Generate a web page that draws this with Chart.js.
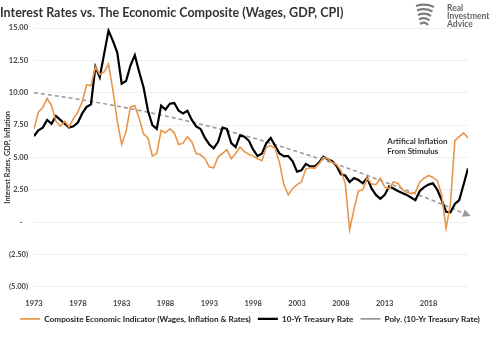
<!DOCTYPE html>
<html>
<head>
<meta charset="utf-8">
<script src="https://cdn.jsdelivr.net/npm/chart.js@4.4.1/dist/chart.umd.min.js"></script>
<style>
  html, body { margin: 0; padding: 0; background: #fff; }
</style>
</head>
<body>
<canvas id="myChart" width="500" height="347"></canvas>
<script>
// half-year steps, 1973 to mid 2022
var fechas = [];
for (var i = 0; i < 100; i++) fechas.push(1973 + i / 2);

var compuesto = [7.2, 8.5, 8.85, 9.55, 9.0, 7.8, 7.4, 7.8, 7.35, 8.0,
  8.5, 9.3, 10.6, 10.55, 12.0, 11.4, 11.6, 12.2, 10.2, 7.8,
  6.0, 7.0, 8.9, 9.0, 8.0, 6.8, 6.5, 5.1, 5.3, 7.1,
  6.9, 7.2, 6.9, 6.0, 6.1, 6.6, 6.2, 5.3, 5.2, 4.9,
  4.25, 4.2, 5.05, 5.3, 5.6, 4.9, 5.3, 5.8, 5.45, 5.25,
  5.1, 4.9, 4.75, 5.8, 5.9, 5.7, 4.6, 2.9, 2.1, 2.6,
  2.9, 3.1, 4.1, 4.2, 4.15, 4.5, 5.0, 4.9, 4.6, 4.45,
  4.0, 3.0, -0.6, 1.0, 2.4, 2.5, 3.4, 2.95, 2.9, 3.4,
  2.7, 2.6, 3.1, 3.0, 2.5, 2.3, 2.2, 2.3, 3.1, 3.4,
  3.6, 3.45, 3.2, 2.1, -0.5, 1.4, 6.3, 6.6, 6.9, 6.5];

var tasa10 = [6.64, 7.1, 7.3, 7.9, 7.6, 8.2, 7.9, 7.6, 7.3, 7.4,
  7.7, 8.4, 8.9, 9.1, 12.0, 11.2, 13.0, 14.8, 14.0, 13.1,
  10.7, 10.9, 12.1, 12.9, 11.6, 10.4, 8.6, 7.5, 7.2, 9.0,
  8.7, 9.15, 9.2, 8.6, 8.4, 8.6, 7.9, 7.4, 7.2, 6.5,
  6.0, 5.7, 6.2, 7.3, 7.2, 6.1, 5.8, 6.7, 6.6, 6.3,
  5.6, 5.1, 5.3, 6.1, 6.5, 5.9, 5.3, 5.1, 5.1, 4.7,
  3.9, 4.0, 4.5, 4.3, 4.3, 4.6, 5.05, 4.85, 4.7, 4.35,
  3.7, 3.6, 3.1, 3.4, 3.25, 3.0, 3.4, 2.6, 2.1, 1.8,
  2.1, 2.75, 2.6, 2.4, 2.25, 2.1, 1.9, 1.7, 2.4, 2.7,
  2.9, 3.0, 2.5, 1.7, 0.8, 0.75, 1.4, 1.7, 2.9, 4.15];

// polynomial trend
var fechasTendencia = [1973, 1978, 1983, 1988, 1993, 1998, 2003, 2008, 2013, 2018, 2022.5];
var tendencia = [10.0, 9.5, 8.9, 8.2, 7.4, 6.5, 5.45, 4.35, 3.1, 1.8, 0.55];

var etiquetasX = [1973, 1978, 1983, 1988, 1993, 1998, 2003, 2008, 2013, 2018];
var valoresY = [-5, -2.5, 0, 2.5, 5, 7.5, 10, 12.5, 15];
var etiquetasY = ['(5.00)', '(2.50)', '-   ', '2.50', '5.00', '7.50', '10.00', '12.50', '15.00'];

var nota = ['Artifical Inflation', 'From Stimulus'];
var notaPos = {x: 2013.3, y: 6.2};

function puntos(xs, ys){
    return xs.map(function(x, k){ return {x: x, y: ys[k]}; });
}

const ctx = document.getElementById('myChart');
const fuente = 'Lato, "Open Sans", sans-serif';

// arrow on the trend line, note and logo text
var extras = {
    id: 'extras',
    afterDatasetsDraw: function(chart){
        var c = chart.ctx;
        var meta = chart.getDatasetMeta(2).data;
        var p1 = meta[meta.length - 2], p2 = meta[meta.length - 1];
        var ang = Math.atan2(p2.y - p1.y, p2.x - p1.x);
        c.save();
        c.translate(p2.x, p2.y);
        c.rotate(ang);
        c.fillStyle = '#9a9a9a';
        c.beginPath();
        c.moveTo(3, 0);
        c.lineTo(-5, -4);
        c.lineTo(-5, 4);
        c.closePath();
        c.fill();
        c.restore();

        var xs = chart.scales.x, ys = chart.scales.y;
        c.save();
        c.fillStyle = '#333';
        c.font = 'bold 8px ' + fuente;
        c.textAlign = 'left';
        c.textBaseline = 'middle';
        var nx = xs.getPixelForValue(notaPos.x), ny = ys.getPixelForValue(notaPos.y);
        c.fillText(nota[0], nx, ny);
        c.fillText(nota[1], nx, ny + 10);
        c.restore();
    },
    afterDraw: function(chart){
        var c = chart.ctx;
        c.save();
        // eagle-ish mark
        c.strokeStyle = '#7d7d7d';
        c.lineWidth = 2.2;
        for (var k = 0; k < 5; k++){
            c.beginPath();
            c.moveTo(416 + k, 6 + k * 4.5);
            c.quadraticCurveTo(425, 3 + k * 4.5, 434 - k * 1.5, 7 + k * 4.5);
            c.stroke();
        }
        c.fillStyle = '#666';
        c.font = 'bold 8.5px ' + fuente;
        c.textBaseline = 'middle';
        c.fillText('Real', 447, 8);
        c.fillText('Investment', 447, 16);
        c.fillText('Advice', 447, 24);
        c.restore();
    }
};

var myChart = new Chart(ctx, {
    type: 'line',
    data: {
        datasets: [{
            label: 'Composite Economic Indicator (Wages, Inflation & Rates)',
            data: puntos(fechas, compuesto),
            borderColor: '#e8964a',
            backgroundColor: '#e8964a',
            borderWidth: 1.6,
            pointRadius: 0,
            tension: 0
        }, {
            label: '10-Yr Treasury Rate',
            data: puntos(fechas, tasa10),
            borderColor: '#000',
            backgroundColor: '#000',
            borderWidth: 2.2,
            pointRadius: 0,
            tension: 0
        }, {
            label: 'Poly. (10-Yr Treasury Rate)',
            data: puntos(fechasTendencia, tendencia),
            borderColor: '#9a9a9a',
            backgroundColor: '#9a9a9a',
            borderWidth: 1.6,
            borderDash: [4, 3],
            pointRadius: 0,
            cubicInterpolationMode: 'monotone'
        }]
    },
    options: {
        responsive: false,
        animation: false,
        layout: { padding: { left: 0, right: 0, top: 0, bottom: 14 } },
        plugins: {
            title: {
                display: true,
                text: 'Interest Rates vs. The Economic Composite (Wages, GDP, CPI)',
                align: 'start',
                color: '#333',
                font: { family: fuente, size: 12.5, weight: 'bold' },
                padding: { top: 5, bottom: 8 }
            },
            legend: {
                position: 'bottom',
                labels: {
                    usePointStyle: true,
                    pointStyle: 'line',
                    pointStyleWidth: 20,
                    color: '#222',
                    font: { family: fuente, size: 8.2, weight: 'bold' },
                    padding: 7,
                    boxHeight: 8
                }
            },
            tooltip: { enabled: false }
        },
        scales: {
            x: {
                type: 'linear',
                min: 1973,
                max: 2022.5,
                afterBuildTicks: function(s){ s.ticks = etiquetasX.map(function(v){ return {value: v}; }); },
                afterFit: function(s){ s.height = 21; },
                ticks: {
                    color: '#444',
                    font: { family: fuente, size: 7.5, weight: 'bold' },
                    maxRotation: 0,
                    padding: 4,
                    callback: function(v){ return String(v); }
                },
                grid: { display: false },
                border: { display: false }
            },
            y: {
                min: -5,
                max: 15,
                afterBuildTicks: function(s){ s.ticks = valoresY.map(function(v){ return {value: v}; }); },
                afterFit: function(s){ s.width = 34; },
                ticks: {
                    color: '#444',
                    font: { family: fuente, size: 7.5, weight: 'bold' },
                    padding: 6,
                    callback: function(v, i){ return etiquetasY[i]; }
                },
                grid: { color: '#efefef', drawTicks: false },
                border: { display: false },
                title: {
                    display: true,
                    text: 'Interest Rates, GDP, Inflation',
                    color: '#333',
                    font: { family: fuente, size: 7.2, weight: 'bold' },
                    padding: { top: 3, bottom: 0 }
                }
            },
            derecha: {
                type: 'linear',
                position: 'right',
                display: true,
                afterFit: function(s){ s.width = 32; },
                ticks: { display: false },
                grid: { display: false },
                border: { display: false }
            }
        }
    },
    plugins: [extras]
});
</script>
</body>
</html>
